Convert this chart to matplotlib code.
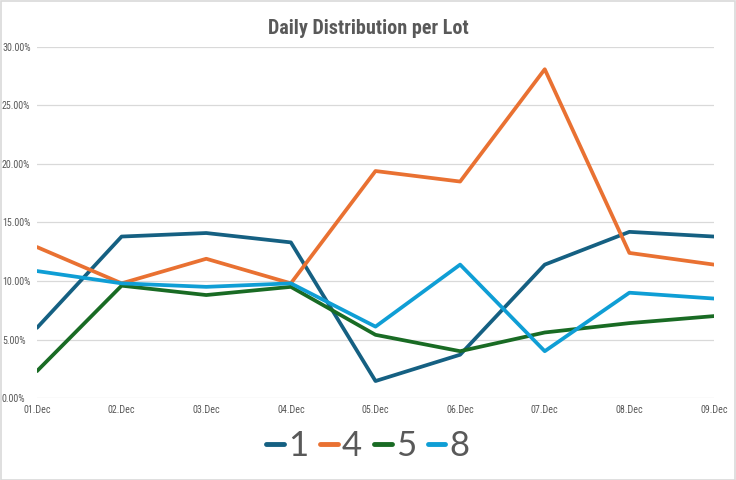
import matplotlib
matplotlib.use("Agg")
import matplotlib.pyplot as plt
from matplotlib.ticker import FuncFormatter, MultipleLocator
from matplotlib.patches import Rectangle
from matplotlib import font_manager as fm

dates = ["01.Dec", "02.Dec", "03.Dec", "04.Dec", "05.Dec", "06.Dec", "07.Dec", "08.Dec", "09.Dec"]
lot_1 = [6.0, 13.8, 14.1, 13.3, 1.45, 3.7, 11.4, 14.2, 13.8]
lot_4 = [12.9, 9.8, 11.9, 9.8, 19.4, 18.5, 28.1, 12.4, 11.4]
lot_5 = [2.3, 9.6, 8.8, 9.5, 5.4, 4.0, 5.6, 6.4, 7.0]
lot_8 = [10.85, 9.8, 9.5, 9.8, 6.1, 11.4, 4.0, 9.0, 8.5]
labels = ["1", "4", "5", "8"]
colors = ["#156082", "#E97132", "#196B24", "#0F9ED5"]

names = {f.name for f in fm.fontManager.ttflist}
narrow_pref = ["Liberation Sans Narrow", "DejaVu Sans Condensed", "Roboto Condensed",
               "Open Sans Condensed", "Noto Sans Condensed"]
narrow = [n for n in narrow_pref if n in names] + ["DejaVu Sans"]
has_narrow = len(narrow) > 1

fig = plt.figure(figsize=(7.36, 4.8), dpi=100)
fig.patches.append(Rectangle((0.001, 0.001), 0.997, 0.997, transform=fig.transFigure,
                             fill=False, edgecolor="#D9D9D9", linewidth=1.2))
ax = fig.add_axes([37/736, 82/480, (714-37)/736, (398-47)/480])

x = list(range(len(dates)))
for vals, lab, c in zip([lot_1, lot_4, lot_5, lot_8], labels, colors):
    ax.plot(x, [v/100 for v in vals], color=c, linewidth=2.7, label=lab,
            solid_capstyle="round", solid_joinstyle="round")

ax.set_xlim(0, len(dates)-1)
ax.set_ylim(0, 0.30)
ax.yaxis.set_major_locator(MultipleLocator(0.05))
ax.yaxis.set_major_formatter(FuncFormatter(lambda v, p: f"{v*100:.2f}%"))
ax.set_xticks(x)
ax.set_xticklabels(dates)
ax.grid(axis="y", color="#D9D9D9", linewidth=0.9)
ax.set_axisbelow(True)
for s in ax.spines.values():
    s.set_visible(False)
fs = 7.2 if has_narrow else 5.5
ax.tick_params(length=0, labelsize=fs, colors="#595959")
ax.tick_params(axis="x", pad=5)
ax.tick_params(axis="y", pad=35*0.72)
for t in ax.get_xticklabels() + ax.get_yticklabels():
    t.set_family(narrow)
    if not has_narrow:
        t.set_stretch("condensed")
for t in ax.get_yticklabels():
    t.set_horizontalalignment("left")

fig.text(0.5, 1-29/480, "Daily Distribution per Lot", ha="center", va="center",
         fontsize=14.5 if has_narrow else 11, fontweight="bold", color="#595959", family=narrow)

leg = fig.legend(loc="center", bbox_to_anchor=(368/736, 1-446/480), ncol=4, frameon=False,
                 prop={"family": ["Lato", "DejaVu Sans"], "size": 25},
                 labelcolor="#595959",
                 handlelength=0.5, handletextpad=0.12, columnspacing=0.35)
for h in leg.get_lines():
    h.set_linewidth(3.5)
    h.set_solid_capstyle("round")

fig.savefig("out.png", dpi=100)
